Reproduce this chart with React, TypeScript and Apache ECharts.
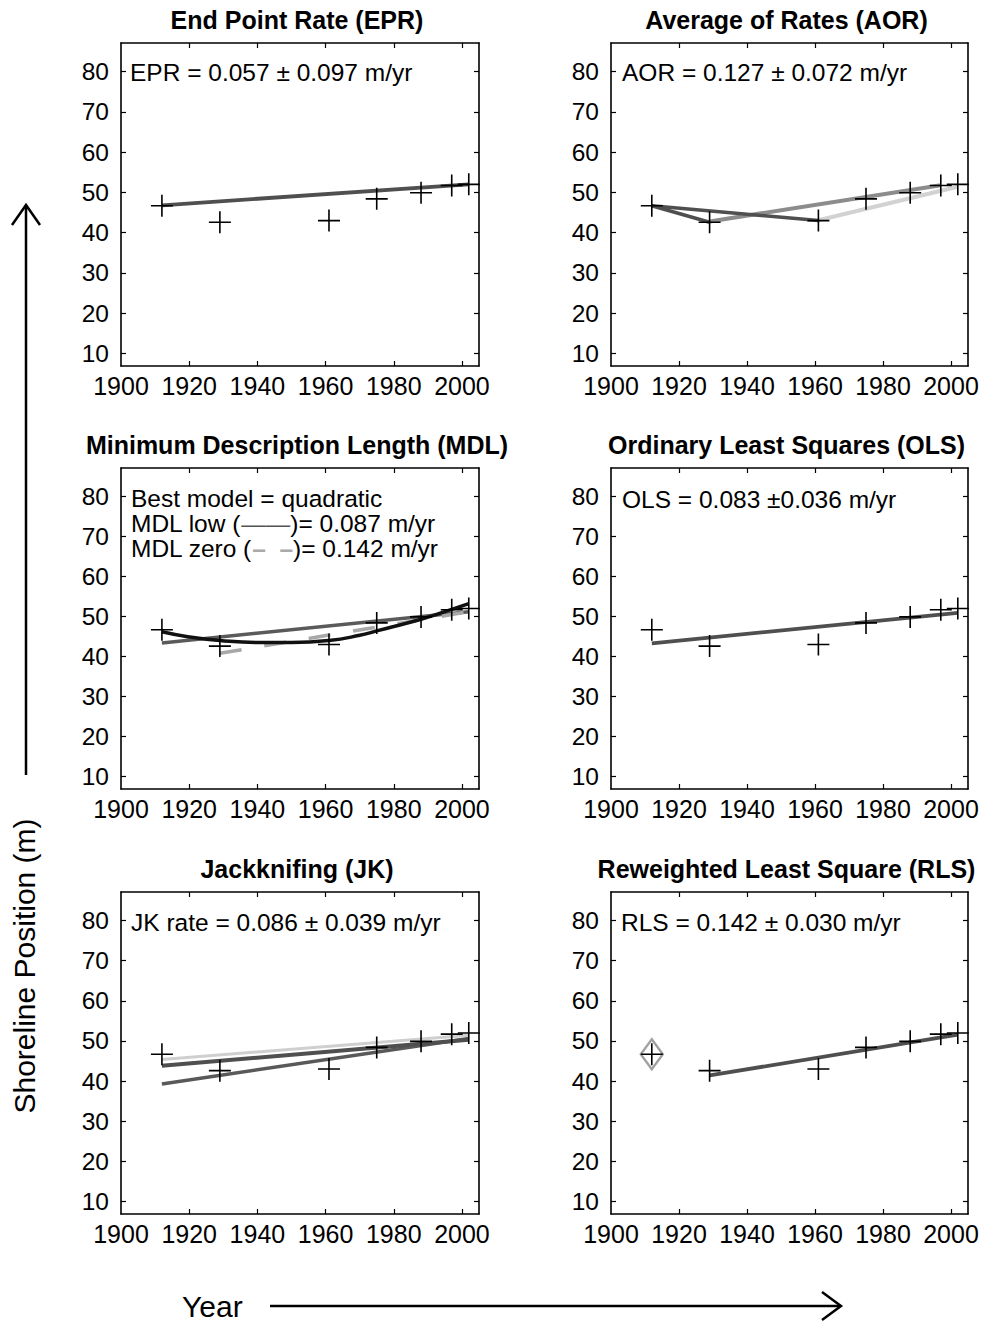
import React, { useEffect, useRef } from 'react';
import * as echarts from 'echarts';

// ---- data ----
const years = [1912, 1929, 1961, 1975, 1988, 1997, 2002];
const shoreline = [46.7, 42.6, 43.0, 48.4, 49.9, 51.7, 52.0];
const xTicks = [1900, 1920, 1940, 1960, 1980, 2000];
const yTicks = [10, 20, 30, 40, 50, 60, 70, 80];

const panelTitles = [
  'End Point Rate (EPR)',
  'Average of Rates (AOR)',
  'Minimum Description Length (MDL)',
  'Ordinary Least Squares (OLS)',
  'Jackknifing (JK)',
  'Reweighted Least Square (RLS)',
];

// EPR
const eprLine = [[1912, 46.8], [2002, 52.0]];
// AOR
const aorDarkA = [[1912, 46.7], [1929, 42.6]];
const aorDarkB = [[1912, 46.7], [1961, 43.0]];
const aorMid = [[1929, 42.8], [1997, 51.8]];
const aorLight = [[1961, 43.1], [2002, 51.4]];
// MDL
const mdlLow = [[1912, 43.4], [2002, 51.2]];
const mdlZero = [[1929, 40.8], [2002, 51.2]];
const mdlQuadYears = [1912, 1920, 1929, 1940, 1950, 1961, 1970, 1975, 1980, 1988, 1995, 2002];
const mdlQuadValues = [46.2, 44.9, 44.0, 43.5, 43.5, 44.0, 45.3, 46.4, 47.5, 49.3, 51.2, 53.2];
// OLS
const olsLine = [[1912, 43.3], [2002, 50.9]];
// JK
const jkLight = [[1912, 45.4], [2002, 51.4]];
const jkDarkA = [[1912, 43.8], [2002, 50.3]];
const jkDarkB = [[1912, 39.3], [2002, 50.6]];
// RLS
const rlsLine = [[1929, 41.4], [2002, 51.6]];
const rlsOutlierYear = 1912;
const rlsOutlierValue = 46.7;

const annotations = [
  'EPR = 0.057 \u00b1 0.097 m/yr',
  'AOR = 0.127 \u00b1 0.072 m/yr',
  'Best model = quadratic',
  'OLS = 0.083 \u00b10.036 m/yr',
  'JK rate = 0.086 \u00b1 0.039 m/yr',
  'RLS = 0.142 \u00b1 0.030 m/yr',
];

const FONT = "'Liberation Sans', Arial, Helvetica, sans-serif";
const ANN_SIZE = 24.5;

const cols = [
  { left: 121, width: 358 },
  { left: 611, width: 357 },
];
const rows = [
  { top: 43, height: 323 },
  { top: 468, height: 321 },
  { top: 892, height: 322 },
];

function buildOption() {
  const grids: any[] = [];
  const xAxes: any[] = [];
  const yAxes: any[] = [];
  const series: any[] = [];
  const graphics: any[] = [];

  const axisLine = { show: true, onZero: false, lineStyle: { color: '#000', width: 1.6 } };

  for (let i = 0; i < 6; i++) {
    const r = rows[Math.floor(i / 2)];
    const c = cols[i % 2];
    grids.push({ left: c.left, top: r.top, width: c.width, height: r.height, containLabel: false });
    for (const pos of ['bottom', 'top']) {
      xAxes.push({
        type: 'value',
        gridIndex: i,
        position: pos,
        min: 1900,
        max: 2005,
        axisLine,
        splitLine: { show: false },
        axisTick: { show: true, inside: true, length: 5, customValues: xTicks.slice(1), lineStyle: { color: '#000', width: 1.2 } },
        axisLabel: {
          show: pos === 'bottom',
          customValues: xTicks,
          formatter: (v: number) => String(v),
          fontSize: 25,
          fontFamily: FONT,
          color: '#000',
          margin: 7,
        },
      });
    }
    for (const pos of ['left', 'right']) {
      yAxes.push({
        type: 'value',
        gridIndex: i,
        position: pos,
        min: 6.9,
        max: 87.1,
        axisLine,
        splitLine: { show: false },
        axisTick: { show: true, inside: true, length: 5, customValues: yTicks, lineStyle: { color: '#000', width: 1.2 } },
        axisLabel: {
          show: pos === 'left',
          customValues: yTicks,
          formatter: (v: number) => String(v),
          fontSize: 24.5,
          fontFamily: FONT,
          color: '#000',
          margin: 12,
        },
      });
    }
    // crosses
    series.push({
      type: 'scatter',
      xAxisIndex: 2 * i,
      yAxisIndex: 2 * i,
      data: years.map((y, k) => [y, shoreline[k]]),
      symbol: 'path://M10,0L10,20M0,10L20,10',
      symbolSize: 22,
      itemStyle: { color: 'none', borderColor: '#000', borderWidth: 1.6, opacity: 1 },
      silent: true,
      clip: false,
      z: 5,
    });
    // title
    graphics.push({
      type: 'text',
      x: c.left + c.width / 2 - 3,
      y: r.top - 23,
      silent: true,
      style: {
        text: panelTitles[i],
        fontSize: 25,
        fontWeight: 'bold',
        fontFamily: FONT,
        fill: '#000',
        align: 'center',
        verticalAlign: 'middle',
      },
    });
  }

  const line = (g: number, data: number[][], color: string, width: number, extra: any = {}) => ({
    type: 'line',
    xAxisIndex: 2 * g,
    yAxisIndex: 2 * g,
    data,
    showSymbol: false,
    symbol: 'none',
    silent: true,
    z: extra.z ?? 2,
    smooth: extra.smooth ?? false,
    lineStyle: { color, width, type: extra.dash ?? 'solid', cap: 'butt' },
  });

  const dark = '#4f4f4f';
  series.push(line(0, eprLine, dark, 3.8));

  series.push(line(1, aorLight, '#d2d2d2', 4));
  series.push(line(1, aorMid, '#8c8c8c', 4));
  series.push(line(1, aorDarkA, dark, 3.5));
  series.push(line(1, aorDarkB, dark, 3.5));

  series.push(line(2, mdlLow, '#5a5a5a', 3.5));
  series.push(line(2, mdlZero, '#a8a8a8', 3.5, { dash: [22, 23] }));
  series.push(line(2, mdlQuadYears.map((y, k) => [y, mdlQuadValues[k]]), '#111', 3.5, { smooth: true, z: 3 }));

  series.push(line(3, olsLine, dark, 3.8));

  series.push(line(4, jkDarkB, '#595959', 3.5));
  series.push(line(4, jkDarkA, dark, 4));
  series.push(line(4, jkLight, '#cfcfcf', 3));

  series.push(line(5, rlsLine, dark, 3.8));
  series.push({
    type: 'scatter',
    xAxisIndex: 10,
    yAxisIndex: 10,
    data: [[rlsOutlierYear, rlsOutlierValue]],
    symbol: 'diamond',
    symbolSize: [22, 30],
    itemStyle: { color: 'none', borderColor: '#8a8a8a', borderWidth: 2.5 },
    silent: true,
    z: 4,
  });

  // annotations
  const textStyle = (text: string, extra: any = {}) => ({
    text,
    fontSize: ANN_SIZE,
    fontFamily: FONT,
    fill: '#000',
    align: 'left',
    verticalAlign: 'middle',
    ...extra,
  });
  const annPos = [
    [130, 72],
    [622, 72],
    [131, 498],
    [622, 499],
    [131, 922],
    [621, 922],
  ];
  annotations.forEach((t, i) => {
    graphics.push({ type: 'text', x: annPos[i][0], y: annPos[i][1], silent: true, style: textStyle(t) });
  });
  const richBase = { fontSize: ANN_SIZE, fontFamily: FONT };
  graphics.push({
    type: 'text',
    x: 131,
    y: 523,
    silent: true,
    style: textStyle('{t|MDL low (}{a|\u2014\u2014}{t|)= 0.087 m/yr}', {
      rich: { t: { ...richBase, fill: '#000' }, a: { ...richBase, fill: '#555' } },
    }),
  });
  graphics.push({
    type: 'text',
    x: 131,
    y: 548,
    silent: true,
    style: textStyle('{t|MDL zero (}{a|\u2013  \u2013}{t|)= 0.142 m/yr}', {
      rich: { t: { ...richBase, fill: '#000' }, a: { ...richBase, fill: '#aaa', fontWeight: 'bold' } },
    }),
  });

  // axis titles with arrows
  graphics.push({
    type: 'text',
    x: 24,
    y: 966,
    rotation: Math.PI / 2,
    silent: true,
    style: textStyle('Shoreline Position (m)', { fontSize: 30, align: 'center' }),
  });
  graphics.push({
    type: 'line',
    silent: true,
    shape: { x1: 26, y1: 775, x2: 26, y2: 206 },
    style: { stroke: '#000', lineWidth: 2.5 },
  });
  graphics.push({
    type: 'polyline',
    silent: true,
    shape: { points: [[12, 225], [26, 205], [40, 225]] },
    style: { stroke: '#000', lineWidth: 2.5, fill: 'none' },
  });
  graphics.push({
    type: 'text',
    x: 182,
    y: 1306,
    silent: true,
    style: textStyle('Year', { fontSize: 30 }),
  });
  graphics.push({
    type: 'line',
    silent: true,
    shape: { x1: 270, y1: 1306, x2: 840, y2: 1306 },
    style: { stroke: '#000', lineWidth: 2.5 },
  });
  graphics.push({
    type: 'polyline',
    silent: true,
    shape: { points: [[822, 1292], [841, 1306], [822, 1320]] },
    style: { stroke: '#000', lineWidth: 2.5, fill: 'none' },
  });

  return {
    animation: false,
    backgroundColor: '#fff',
    grid: grids,
    xAxis: xAxes,
    yAxis: yAxes,
    series,
    graphic: graphics,
  };
}

export default function App() {
  const ref = useRef<HTMLDivElement>(null);
  useEffect(() => {
    if (!ref.current) return;
    const chart = echarts.init(ref.current, undefined, { renderer: 'svg' });
    chart.setOption(buildOption() as any);
    return () => chart.dispose();
  }, []);
  return (
    <div
      ref={ref}
      style={{ position: 'absolute', left: 0, top: 0, width: 986, height: 1325, background: '#fff' }}
    />
  );
}
